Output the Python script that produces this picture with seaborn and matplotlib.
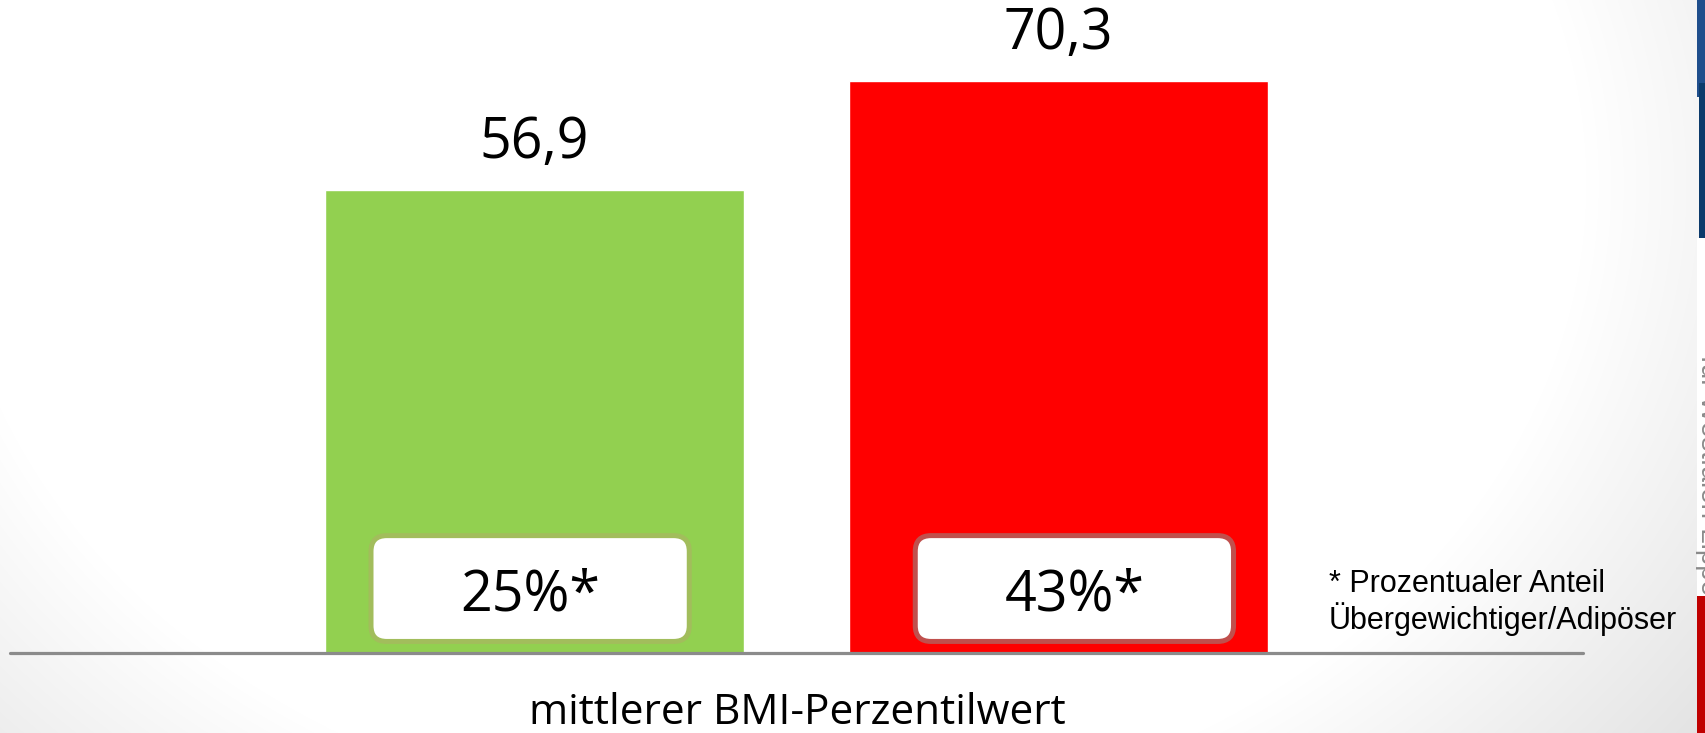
import numpy as np
import matplotlib
matplotlib.use("Agg")
import matplotlib.pyplot as plt
from matplotlib.patches import FancyBboxPatch, Rectangle
import seaborn as sns

# ---- data -------------------------------------------------------------
groups = ["Gruppe 1", "Gruppe 2"]
bmi_percentile = [56.9, 70.3]
share_overweight = ["25%*", "43%*"]
bar_colors = ["#92d050", "#ff0000"]
box_edge_colors = ["#a2bd5c", "#c0504d"]
x_label = "mittlerer BMI-Perzentilwert"
footnote_lines = ["* Prozentualer Anteil", "Übergewichtiger/Adipöser"]
side_caption = "für Westfalen-Lippe"

# ---- figure -----------------------------------------------------------
W, H, DPI = 1705, 733, 100
sns.set_theme(style="white")
plt.rcParams["font.family"] = ["Open Sans", "DejaVu Sans"]

fig = plt.figure(figsize=(W / DPI, H / DPI), dpi=DPI)
fig.patch.set_facecolor("white")

# soft grey vignette behind the slide content
bg = fig.add_axes([0, 0, 1, 1])
yy, xx = np.mgrid[0:H, 0:W]
d = np.sqrt(((xx - 0.45 * W) / (0.6 * W)) ** 2 + ((yy - 0.25 * H) / (1.1 * H)) ** 2)
shade = 1 - 0.32 * np.clip(d - 0.8, 0, 1)
bg.imshow(np.dstack([shade] * 3), extent=(0, W, H, 0), aspect="auto",
          interpolation="bilinear")
bg.set_xlim(0, W)
bg.set_ylim(H, 0)
bg.axis("off")

# coloured edge strip on the right
bg.add_patch(Rectangle((1697, 0), 10, 97, color="#1f4e8c", lw=0))
bg.add_patch(Rectangle((1698.5, 83), 10, 155, color="#0b3a6b", lw=0))
bg.add_patch(Rectangle((1697, 238), 10, 358, color="white", lw=0))
bg.add_patch(Rectangle((1697, 596), 10, 140, color="#c00000", lw=0))
bg.text(1695, 355, side_caption, rotation=-90, ha="left", va="top",
        fontsize=20, color="#8a8a8a", family="Liberation Sans")

# ---- bar chart --------------------------------------------------------
px_per_unit = 8.14
ax_left, ax_right, ax_base = 10, 1583, 653
ymax = 80
ax = fig.add_axes([ax_left / W, (H - ax_base) / H,
                   (ax_right - ax_left) / W, ymax * px_per_unit / H])
ax.patch.set_alpha(0)

sns.barplot(x=groups, y=bmi_percentile, hue=groups, palette=bar_colors,
            width=0.8, saturation=1, legend=False, ax=ax, zorder=2)
ax.set_xlim(-1.0, 2.0)
ax.set_ylim(0, ymax)
ax.set_xticks([])
ax.set_yticks([])
ax.set_xlabel("")
ax.set_ylabel("")
for s in ax.spines.values():
    s.set_visible(False)
ax.axhline(0, color="#8b8b8b", lw=2.3, zorder=3, clip_on=False)

# value labels above the bars
for i, v in enumerate(bmi_percentile):
    ax.annotate(f"{v:.1f}".replace(".", ","), xy=(i, v), xytext=(0, 23),
                textcoords="offset points", ha="center", va="baseline",
                fontsize=40, color="black")

# rounded boxes with the share of overweight children
box_shift = [-0.008, 0.03]
box_w, box_y0, box_h = 0.607, 1.42, 13.0
for i, (txt, ec) in enumerate(zip(share_overweight, box_edge_colors)):
    cx = i + box_shift[i]
    ax.add_patch(FancyBboxPatch((cx - box_w / 2, box_y0), box_w, box_h,
                                boxstyle="round,pad=0,rounding_size=0.03",
                                mutation_aspect=524 / px_per_unit,
                                facecolor="white", edgecolor=ec, lw=3.6,
                                zorder=4))
    ax.text(cx, 5.19, txt, ha="center", va="baseline", fontsize=40,
            color="black", zorder=5)

# axis caption and footnote
fig.text(797 / W, (H - 724) / H, x_label, ha="center", va="baseline",
         fontsize=30.5, color="black")
for k, line in enumerate(footnote_lines):
    fig.text(1329 / W, (H - (592 + 37 * k)) / H, line, ha="left",
             va="baseline", fontsize=22, color="black",
             family="Liberation Sans")

fig.savefig("out.png", dpi=DPI)
